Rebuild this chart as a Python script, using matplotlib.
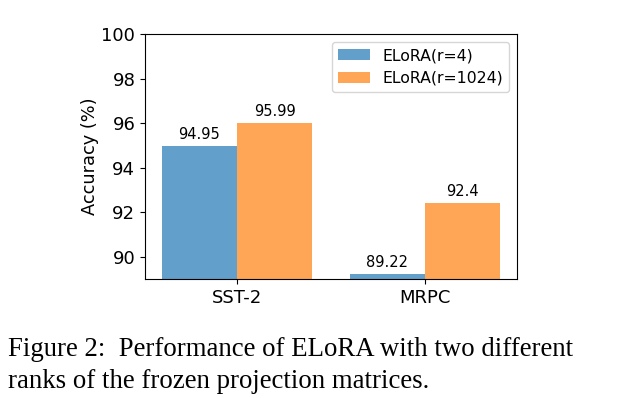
import numpy as np
import matplotlib.pyplot as plt

plt.rcParams['font.family'] = ['DejaVu Sans']

tasks = ["SST-2", "MRPC"]
acc_r4 = [94.95, 89.22]
acc_r1024 = [95.99, 92.4]
series_names = ["ELoRA(r=4)", "ELoRA(r=1024)"]

fig = plt.figure(figsize=(6.24, 3.98), dpi=100)
ax = fig.add_axes([145 / 624, 1 - 279 / 398, 372 / 624, 245 / 398])

x = np.arange(len(tasks))
w = 0.4
b1 = ax.bar(x - w / 2, acc_r4, w, color="tab:blue", alpha=0.7, label=series_names[0])
b2 = ax.bar(x + w / 2, acc_r1024, w, color="tab:orange", alpha=0.7, label=series_names[1])
ax.bar_label(b1, labels=[str(v) for v in acc_r4], padding=3, fontsize=10.5)
ax.bar_label(b2, labels=[str(v) for v in acc_r1024], padding=3, fontsize=10.5)

ax.set_ylim(89, 100)
ax.set_yticks([90, 92, 94, 96, 98, 100])
ax.set_xticks(x)
ax.set_xticklabels(tasks)
ax.tick_params(labelsize=13)
ax.set_ylabel("Accuracy (%)", fontsize=12.8, labelpad=1.5)
ax.legend(loc="upper right", fontsize=11.3)

# caption below the chart
cap = "Figure 2:  Performance of ELoRA with two different\nranks of the frozen projection matrices."
fig.text(8 / 624, 1 - 337 / 398, cap, family="Liberation Serif", fontsize=19.3,
         va="top", ha="left", linespacing=1.37)

fig.savefig("out.png", dpi=100)
